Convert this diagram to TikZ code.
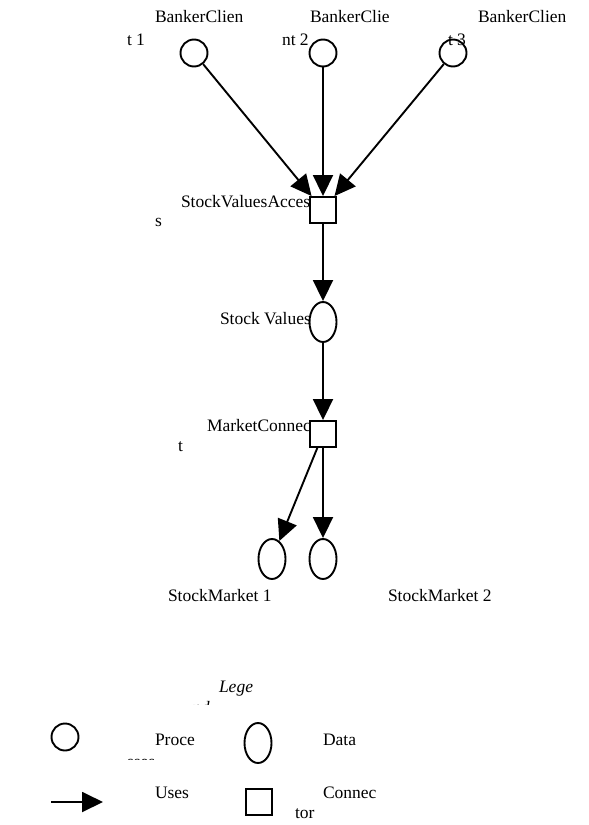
\documentclass[tikz,border=0pt]{standalone}
\usepackage{fontspec}
\setmainfont{Liberation Serif}
\usetikzlibrary{arrows.meta,shapes.geometric}
\begin{document}
\begin{tikzpicture}[x=1bp,y=-1bp,
  every node/.style={font=\fontsize{17.5bp}{21bp}\selectfont},
  lw/.style={line width=1.9bp},
  proc/.style={lw,draw,circle,minimum size=27bp,inner sep=0pt},
  dat/.style={lw,draw,ellipse,minimum width=27bp,minimum height=40bp,inner sep=0pt},
  conn/.style={lw,draw,rectangle,minimum size=26bp,inner sep=0pt},
  uses/.style={lw,-{Triangle[length=21bp,width=20bp]}},
  lbl/.style={anchor=base west,inner sep=0pt,outer sep=0pt}]
\useasboundingbox (0,0) rectangle (589,825);
% nodes
\node[proc] (c1) at (194,53) {};
\node[proc] (c2) at (323,53) {};
\node[proc] (c3) at (453,53) {};
\node[conn] (sva) at (323,210) {};
\node[dat] (sv) at (323,322) {};
\node[conn] (mc) at (323,434) {};
\node[dat] (sm1) at (272,559) {};
\node[dat] (sm2) at (323,559) {};
% connectors
\draw[uses] (c1) -- (sva);
\draw[uses] (c2) -- (sva);
\draw[uses] (c3) -- (sva);
\draw[uses] (sva) -- (sv);
\draw[uses] (sv) -- (mc);
\draw[uses] (mc) -- (sm1);
\draw[uses] (mc) -- (sm2);
% labels
\node[lbl] (l1a) at (155,22) {BankerClien};
\node[lbl] (l1b) at (127,45) {t 1};
\node[lbl] (l2a) at (310,22) {BankerClie};
\node[lbl] (l2b) at (282,45) {nt 2};
\node[lbl] (l3a) at (478,22) {BankerClien};
\node[lbl] (l3b) at (448,45) {t 3};
\node[lbl] (lsva) at (181,207) {StockValuesAcces};
\node[lbl] (lsvb) at (155,226) {s};
\node[lbl] (lsv) at (220,324) {Stock Values};
\node[lbl] (lmca) at (207,431) {MarketConnec};
\node[lbl] (lmcb) at (178,451) {t};
\node[lbl] (lsm1) at (168,601) {StockMarket 1};
\node[lbl] (lsm2) at (388,601) {StockMarket 2};
% legend
\node[lbl] (leg) at (219,692) {\itshape Lege};
\begin{scope}
  \clip (150,690) rectangle (260,704);
  \node[lbl] (leg2) at (192,713) {\itshape nd};
\end{scope}
\node[proc] (lp) at (65,737) {};
\node[lbl] (lpt) at (155,745) {Proce};
\begin{scope}
  \clip (100,752) rectangle (200,759.5);
  \node[lbl] (lpt2) at (127,767) {sses};
\end{scope}
\node[dat] (ld) at (258,743) {};
\node[lbl] (ldt) at (323,745) {Data};
\coordinate (ua) at (51,802);
\coordinate (ub) at (103,802);
\draw[uses] (ua) -- (ub);
\node[lbl] (lut) at (155,798) {Uses};
\node[conn] (lc) at (259,802) {};
\node[lbl] (lct) at (323,798) {Connec};
\node[lbl] (lct2) at (295,818) {tor};
\end{tikzpicture}
\end{document}
